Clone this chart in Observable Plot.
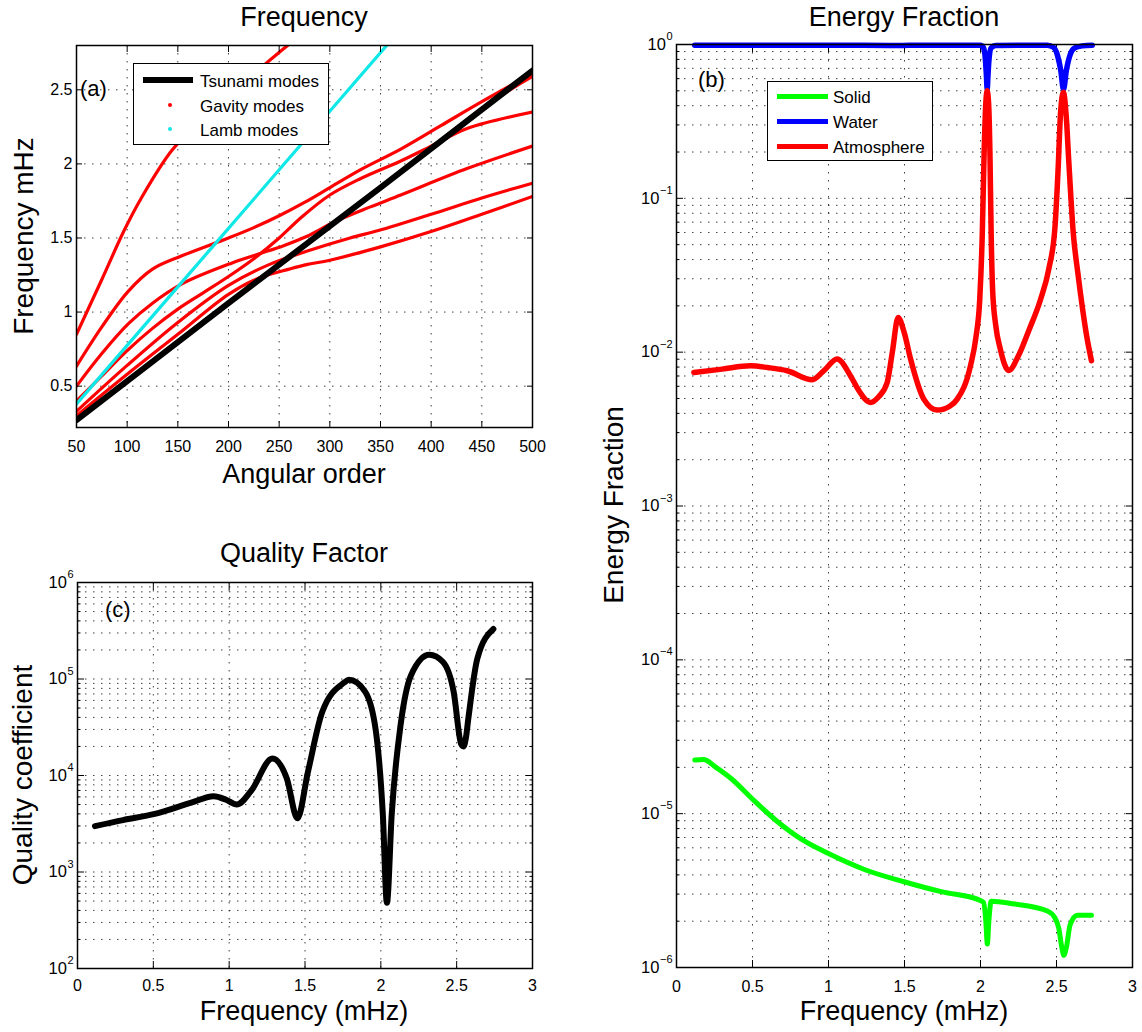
<!DOCTYPE html>
<html>
<head>
<meta charset="utf-8">
<script src="https://cdn.jsdelivr.net/npm/d3@7"></script>
<script src="https://cdn.jsdelivr.net/npm/@observablehq/plot@0.6"></script>
<style>
  html, body { margin: 0; padding: 0; background: #fff; }
  #root { position: relative; width: 1142px; height: 1032px; overflow: hidden; background: #fff;
          font-family: "Liberation Sans", Arial, Helvetica, sans-serif; color: #000; }
  .txt { position: absolute; white-space: nowrap; line-height: 1; color: #000; }
  .box { position: absolute; border: 1.5px solid #000; background: #fff; box-sizing: border-box; }
  .sw { position: absolute; }
</style>
</head>
<body>
<div id="root"></div>
<script>
// ---------------- DATA ----------------
// Panel (a): Frequency (mHz) vs angular order
const angularTicks = [50, 100, 150, 200, 250, 300, 350, 400, 450, 500];
const freqTicksA = [0.5, 1, 1.5, 2, 2.5];

const tsunamiL = [50, 200, 350, 500];
const tsunamiF = [0.27, 1.06, 1.84, 2.63];

const lambL = [50, 150, 250, 360];
const lambF = [0.38, 1.17, 1.96, 2.83];

const gravity1 = [[50,0.85],[75,1.22],[97,1.55],[114,1.77],[144,2.09],[175,2.31],[200,2.45],[234,2.66],[262,2.82]];
const gravity2 = [[50,0.635],[75,0.90],[101,1.14],[125,1.29],[154,1.38],[200,1.50],[225,1.57],[250,1.65],[275,1.74],[300,1.84],[330,1.96],[370,2.10],[410,2.26],[450,2.42],[500,2.61]];
const gravity3 = [[50,0.50],[75,0.72],[101,0.92],[125,1.06],[154,1.19],[203,1.33],[229,1.39],[255,1.45],[277,1.51],[305,1.61],[340,1.71],[370,1.79],[436,1.97],[500,2.12]];
const gravity4 = [[50,0.40],[75,0.57],[100,0.74],[125,0.89],[150,1.02],[175,1.13],[200,1.24],[225,1.36],[250,1.50],[272,1.64],[300,1.79],[330,1.90],[370,2.02],[400,2.12],[436,2.24],[500,2.35]];
const gravity5 = [[50,0.33],[100,0.64],[150,0.93],[200,1.18],[240,1.32],[277,1.41],[320,1.50],[348,1.55],[400,1.66],[450,1.77],[500,1.87]];
const gravity6 = [[50,0.30],[100,0.58],[150,0.85],[200,1.12],[230,1.23],[260,1.29],[277,1.32],[300,1.35],[350,1.44],[403,1.55],[450,1.66],[500,1.78]];
const gravity7 = [[50,0.27],[200,1.06],[350,1.84],[460,2.42],[500,2.59]];
const gravityBranches = [gravity1, gravity2, gravity3, gravity4, gravity5, gravity6, gravity7];

// Panel (c): quality coefficient vs frequency
const freqTicks = [0, 0.5, 1, 1.5, 2, 2.5, 3];
const qFreq = [0.115, 0.30, 0.51, 0.745, 0.898, 0.98, 1.05, 1.144, 1.285, 1.38, 1.45, 1.52, 1.614, 1.755, 1.79, 1.896, 1.967, 2.013, 2.04, 2.072, 2.131, 2.20, 2.32, 2.41, 2.48, 2.53, 2.545, 2.56, 2.577, 2.636, 2.742];
const qValue = [2986, 3450, 4000, 5200, 6100, 5600, 5000, 6900, 15000, 9300, 3600, 11000, 45700, 91000, 98000, 74000, 29000, 4000, 480, 4000, 34000, 110000, 178000, 150000, 74000, 21000, 20000, 24000, 39000, 162000, 330000];
const qDecades = [1e2, 1e3, 1e4, 1e5, 1e6];

// Panel (b): energy fractions vs frequency
const atmFreq = [0.114, 0.30, 0.487, 0.60, 0.728, 0.893, 0.97, 1.057, 1.145, 1.20, 1.276, 1.33, 1.386, 1.42, 1.458, 1.50, 1.54, 1.627, 1.715, 1.80, 1.847, 1.934, 1.97, 1.995, 2.012, 2.024, 2.035, 2.044, 2.053, 2.062, 2.07, 2.08, 2.10, 2.13, 2.186, 2.25, 2.32, 2.395, 2.45, 2.49, 2.51, 2.526, 2.545, 2.565, 2.58, 2.61, 2.64, 2.672, 2.70, 2.73];
const atmValue = [0.00738, 0.00776, 0.00815, 0.00794, 0.00757, 0.00661, 0.00759, 0.00902, 0.00701, 0.00562, 0.00471, 0.00513, 0.00635, 0.0100, 0.0168, 0.0132, 0.00902, 0.00495, 0.00420, 0.00447, 0.00495, 0.00815, 0.0125, 0.022, 0.06, 0.20, 0.42, 0.50, 0.42, 0.20, 0.06, 0.025, 0.015, 0.0105, 0.0076, 0.0095, 0.014, 0.022, 0.035, 0.065, 0.15, 0.35, 0.49, 0.33, 0.18, 0.06, 0.033, 0.019, 0.0125, 0.0088];

const waterFreq = [0.12, 0.6, 1.0, 1.46, 1.6, 2.0, 2.02, 2.032, 2.038, 2.044, 2.05, 2.056, 2.07, 2.10, 2.44, 2.48, 2.505, 2.528, 2.546, 2.565, 2.59, 2.62, 2.67, 2.735];
const waterValue = [0.99, 0.99, 0.99, 0.985, 0.99, 0.99, 0.95, 0.80, 0.65, 0.51, 0.65, 0.80, 0.95, 0.985, 0.99, 0.96, 0.86, 0.68, 0.51, 0.68, 0.86, 0.95, 0.98, 0.99];

const solidFreq = [0.12, 0.178, 0.26, 0.363, 0.501, 0.663, 0.824, 1.0, 1.24, 1.497, 1.748, 1.99, 2.02, 2.035, 2.045, 2.055, 2.07, 2.21, 2.44, 2.49, 2.515, 2.535, 2.548, 2.565, 2.59, 2.637, 2.73];
const solidValue = [2.23e-5, 2.25e-5, 2.0e-5, 1.68e-5, 1.24e-5, 8.9e-6, 6.8e-6, 5.5e-6, 4.32e-6, 3.61e-6, 3.1e-6, 2.75e-6, 2.65e-6, 2.0e-6, 1.42e-6, 2.0e-6, 2.7e-6, 2.6e-6, 2.33e-6, 2.1e-6, 1.8e-6, 1.35e-6, 1.2e-6, 1.35e-6, 1.9e-6, 2.19e-6, 2.19e-6];
const energyDecades = [1e-6, 1e-5, 1e-4, 1e-3, 1e-2, 1e-1, 1e0];

// ---------------- HELPERS ----------------
const root = document.getElementById("root");
const FONT = '"Liberation Sans", Arial, Helvetica, sans-serif';
const baseStyle = { fontFamily: FONT, fontSize: "16px", color: "#000", background: "transparent", overflow: "visible" };
const gridStyle = { stroke: "#000", strokeOpacity: 0.75, strokeWidth: 1, strokeDasharray: "1.5,6.5" };

function place(el, left, top) {
  el.style.position = "absolute";
  el.style.left = left + "px";
  el.style.top = top + "px";
  root.appendChild(el);
}
function addText(str, x, baseline, size, anchor) {
  const d = document.createElement("div");
  d.className = "txt";
  d.textContent = str;
  d.style.fontSize = size + "px";
  d.style.left = x + "px";
  d.style.top = (baseline - 0.8465 * size) + "px";
  if (anchor === "middle") d.style.transform = "translateX(-50%)";
  root.appendChild(d);
}
function addVText(str, cx, cy, size) {
  const d = document.createElement("div");
  d.className = "txt";
  d.textContent = str;
  d.style.fontSize = size + "px";
  d.style.left = cx + "px";
  d.style.top = cy + "px";
  d.style.transform = "translate(-50%,-50%) rotate(-90deg)";
  root.appendChild(d);
}
function addBox(l, t, w, h) {
  const d = document.createElement("div");
  d.className = "box";
  Object.assign(d.style, { left: l + "px", top: t + "px", width: w + "px", height: h + "px" });
  root.appendChild(d);
}
function addSwatch(l, t, w, h, color, round) {
  const d = document.createElement("div");
  d.className = "sw";
  Object.assign(d.style, { left: l + "px", top: t + "px", width: w + "px", height: h + "px", background: color });
  if (round) d.style.borderRadius = "50%";
  root.appendChild(d);
}

const measureCtx = document.createElement("canvas").getContext("2d");
function textWidth(str, size) {
  measureCtx.font = size + "px " + FONT;
  return measureCtx.measureText(str).width;
}

function minorsFor(decades) {
  const out = [];
  for (let i = 0; i < decades.length - 1; i++) for (let m = 2; m <= 9; m++) out.push(decades[i] * m);
  return out;
}

function logYMarks(decades) {
  const minors = minorsFor(decades);
  const marks = [
    Plot.gridY(minors, gridStyle),
    Plot.gridY(decades, gridStyle),
    Plot.axisY(decades, { anchor: "left", tickSize: 7, dx: 7, fill: "none", label: null, strokeWidth: 1 }),
    Plot.axisY(decades, { anchor: "right", tickSize: 7, dx: -7, fill: "none", label: null, strokeWidth: 1 }),
    Plot.axisY(minors, { anchor: "left", tickSize: 3.5, dx: 3.5, fill: "none", label: null, strokeWidth: 1 }),
    Plot.axisY(minors, { anchor: "right", tickSize: 3.5, dx: -3.5, fill: "none", label: null, strokeWidth: 1 })
  ];
  // tick labels 10^k, right aligned as a whole
  for (const d of decades) {
    const e = Math.round(Math.log10(d));
    const expStr = e === 0 ? "0" : (e < 0 ? "\u2212" + Math.abs(e) : String(e));
    const wExp = textWidth(expStr, 11);
    marks.push(Plot.text([d], { y: (v) => v, text: () => "10", frameAnchor: "left", textAnchor: "end", dx: -(4 + wExp + 0.5), fontSize: 16.5 }));
    marks.push(Plot.text([d], { y: (v) => v, text: () => expStr, frameAnchor: "left", textAnchor: "end", dx: -4, dy: -8, fontSize: 11 }));
  }
  return marks;
}

function freqXMarks(pad) {
  return [
    Plot.gridX(freqTicks, gridStyle),
    Plot.axisX(freqTicks, { anchor: "bottom", tickSize: 7, dy: -7, fill: "none", label: null }),
    Plot.axisX(freqTicks, { anchor: "top", tickSize: 7, dy: 7, fill: "none", label: null }),
    Plot.axisX(freqTicks, { anchor: "bottom", tickSize: 0, tickPadding: pad, label: null, tickFormat: (d) => String(d) })
  ];
}

// ---------------- PANEL (a) ----------------
const tsunamiRows = tsunamiL.map((l, i) => ({ l, f: tsunamiF[i] }));
const lambRows = lambL.map((l, i) => ({ l, f: lambF[i] }));
const gravityRows = gravityBranches.flatMap((b, k) => b.map(([l, f]) => ({ l, f, branch: k })));

const plotA = Plot.plot({
  width: 560, height: 500,
  marginLeft: 76, marginRight: 28, marginTop: 45, marginBottom: 73,
  x: { type: "linear", domain: [50, 500] },
  y: { type: "linear", domain: [0.221, 2.799] },
  style: baseStyle,
  marks: [
    Plot.gridX(angularTicks, gridStyle),
    Plot.gridY(freqTicksA, gridStyle),
    Plot.line(gravityRows, { x: "l", y: "f", z: "branch", stroke: "#ff0000", strokeWidth: 3.2, curve: "catmull-rom", clip: true }),
    Plot.line(tsunamiRows, { x: "l", y: "f", stroke: "#000", strokeWidth: 6, clip: true }),
    Plot.line(lambRows, { x: "l", y: "f", stroke: "#10e8e8", strokeWidth: 3.2, curve: "monotone-x", clip: true }),
    Plot.axisX(angularTicks, { anchor: "bottom", tickSize: 6, dy: -6, fill: "none", label: null }),
    Plot.axisX(angularTicks, { anchor: "top", tickSize: 6, dy: 6, fill: "none", label: null }),
    Plot.axisY(freqTicksA, { anchor: "left", tickSize: 6, dx: 6, fill: "none", label: null }),
    Plot.axisY(freqTicksA, { anchor: "right", tickSize: 6, dx: -6, fill: "none", label: null }),
    Plot.axisX(angularTicks, { anchor: "bottom", tickSize: 0, tickPadding: 13, label: null, tickFormat: (d) => String(d) }),
    Plot.axisY(freqTicksA, { anchor: "left", tickSize: 0, tickPadding: 4, label: null, tickFormat: (d) => String(d) }),
    Plot.frame({ stroke: "#000", strokeWidth: 1.5 })
  ]
});
place(plotA, 0, 0);

// ---------------- PANEL (c) ----------------
const qRows = qFreq.map((f, i) => ({ f, q: qValue[i] }));
const plotC = Plot.plot({
  width: 560, height: 492,
  marginLeft: 77, marginRight: 28, marginTop: 42, marginBottom: 64,
  x: { type: "linear", domain: [0, 3] },
  y: { type: "log", domain: [1e2, 1e6] },
  style: baseStyle,
  marks: [
    ...freqXMarks(11),
    ...logYMarks(qDecades),
    Plot.line(qRows, { x: "f", y: "q", stroke: "#000", strokeWidth: 6, curve: "monotone-x" }),
    Plot.frame({ stroke: "#000", strokeWidth: 1.5 })
  ]
});
place(plotC, 0, 540);

// ---------------- PANEL (b) ----------------
const solidRows = solidFreq.map((f, i) => ({ f, v: solidValue[i] }));
const waterRows = waterFreq.map((f, i) => ({ f, v: waterValue[i] }));
const atmRows = atmFreq.map((f, i) => ({ f, v: atmValue[i] }));
const plotB = Plot.plot({
  width: 552, height: 1032,
  marginLeft: 86, marginRight: 10, marginTop: 44, marginBottom: 65,
  x: { type: "linear", domain: [0, 3] },
  y: { type: "log", domain: [1e-6, 1] },
  style: baseStyle,
  marks: [
    ...freqXMarks(13),
    ...logYMarks(energyDecades),
    Plot.line(solidRows, { x: "f", y: "v", stroke: "#00ff00", strokeWidth: 5, curve: "monotone-x" }),
    Plot.line(waterRows, { x: "f", y: "v", stroke: "#0000ff", strokeWidth: 5.5, curve: "monotone-x" }),
    Plot.line(atmRows, { x: "f", y: "v", stroke: "#ff0000", strokeWidth: 5.5, curve: "monotone-x" }),
    Plot.frame({ stroke: "#000", strokeWidth: 1.5 })
  ]
});
place(plotB, 590, 0);

// ---------------- TEXT: titles, axis labels, panel tags ----------------
addText("Frequency", 304, 27, 27, "middle");
addText("Angular order", 304, 484, 27, "middle");
addVText("Frequency mHz", 24, 236, 28);
addText("(a)", 80, 97, 22);

addText("Quality Factor", 304, 563, 27, "middle");
addText("Frequency (mHz)", 304, 1021, 27, "middle");
addVText("Quality coefficient", 23, 775, 28);
addText("(c)", 105, 618, 22);

addText("Energy Fraction", 904, 27, 27, "middle");
addText("Frequency (mHz)", 904, 1021, 27, "middle");
addVText("Energy Fraction", 614, 505, 28);
addText("(b)", 698, 88, 22);

// ---------------- LEGENDS ----------------
// (a)
addBox(133, 63, 196, 82);
addSwatch(143, 77, 50, 6, "#000");
addText("Tsunami modes", 200, 87, 17);
addSwatch(168, 103, 4, 4, "#ff0000", true);
addText("Gavity modes", 200, 112, 17);
addSwatch(168, 127, 4, 4, "#10e8e8", true);
addText("Lamb modes", 200, 136, 17);

// (b)
addBox(767, 81, 166, 80);
addSwatch(777, 93.5, 51, 5, "#00ff00");
addText("Solid", 833, 103, 17);
addSwatch(777, 118.5, 51, 5, "#0000ff");
addText("Water", 833, 128, 17);
addSwatch(777, 143.5, 51, 5, "#ff0000");
addText("Atmosphere", 833, 153, 17);
</script>
</body>
</html>
